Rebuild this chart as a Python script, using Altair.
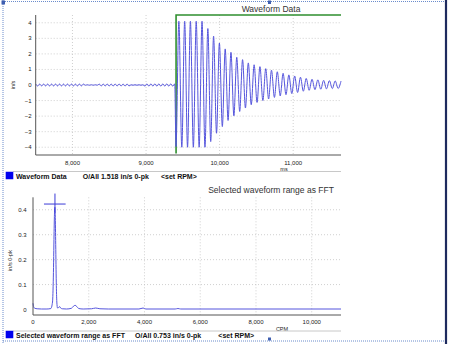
import altair as alt
import pandas as pd

# ---------------- data ----------------
# pre-trigger small ripple (ms, in/s)
pre_t = [7500, 7527, 7554, 7581, 7608, 7635, 7662, 7689, 7716, 7743,
         7770, 7797, 7824, 7851, 7878, 7905, 7932, 7959, 7986, 8013,
         8040, 8067, 8094, 8121, 8148, 8175, 8202, 8229, 8256, 8283,
         8310, 8337, 8364, 8391, 8418, 8445, 8472, 8499, 8526, 8553,
         8580, 8607, 8634, 8661, 8688, 8715, 8742, 8769, 8796, 8823,
         8850, 8877, 8904, 8931, 8958, 8985, 9012, 9039, 9066, 9093,
         9120, 9147, 9174, 9201, 9228, 9255, 9282, 9309, 9336, 9363,
         9390]
pre_v = [0.06, -0.06, 0.06, -0.06, 0.06, -0.06, 0.06, -0.06, 0.06, -0.06,
         0.06, -0.06, 0.06, -0.06, 0.06, -0.06, 0.06, -0.06, 0.06, -0.06,
         0.06, -0.06, 0.06, -0.06, 0.06, -0.015, 0.015, -0.015, 0.015, -0.015,
         0.015, -0.015, 0.06, -0.06, 0.06, -0.06, 0.06, -0.06, 0.06, -0.06,
         0.06, -0.06, 0.06, -0.06, 0.06, -0.06, 0.06, -0.06, 0.015, -0.015,
         0.015, -0.015, 0.015, -0.015, 0.015, -0.07, 0.07, -0.07, 0.07, -0.07,
         0.07, -0.07, 0.07, -0.07, 0.07, -0.07, 0.07, -0.07, 0.07, -0.07,
         0.07]
# ring-down after the impact: troughs and peaks (ms, in/s)
trough_t = [9407, 9486, 9564, 9643, 9722, 9801, 9879, 9958, 10037, 10115,
            10194, 10273, 10351, 10430, 10509, 10588, 10666, 10745, 10824, 10902,
            10981, 11060, 11138, 11217, 11296, 11375, 11453, 11532, 11611]
trough_v = [-3.96, -4.0, -4.0, -4.0, -4.0, -4.0, -3.64, -3.1, -2.67, -2.28,
            -1.98, -1.7, -1.48, -1.27, -1.12, -1.0, -0.9, -0.8, -0.7, -0.62,
            -0.55, -0.48, -0.4, -0.34, -0.3, -0.27, -0.25, -0.23, -0.22]
peak_t = [9446, 9525, 9603, 9682, 9761, 9840, 9918, 9997, 10076, 10154,
          10233, 10312, 10390, 10469, 10548, 10627, 10705, 10784, 10863, 10941,
          11020, 11099, 11177, 11256, 11335, 11414, 11492, 11571, 11650]
peak_v = [4.1, 4.1, 4.1, 4.1, 4.1, 3.63, 3.14, 2.7, 2.32, 2.1,
          1.78, 1.63, 1.42, 1.3, 1.18, 1.05, 0.95, 0.85, 0.75, 0.65,
          0.58, 0.5, 0.42, 0.37, 0.33, 0.3, 0.28, 0.26, 0.25]

# selected range marker (green)
green_t = [9408, 9408, 11650]
green_v = [-4.4, 4.5, 4.5]

wave_xticks = [8000, 9000, 10000, 11000]
wave_yticks = [-4, -3, -2, -1, 0, 1, 2, 3, 4]

# FFT spectrum (CPM, in/s 0-pk)
fft_cpm = [0, 20, 60, 150, 300, 500, 640, 700, 730, 755,
           772, 785, 798, 815, 835, 855, 880, 920, 955, 990,
           1050, 1200, 1380, 1450, 1510, 1570, 1640, 1800, 2100, 2250,
           2400, 2700, 3800, 3950, 4050, 5100, 5200, 5300, 8000, 11050]
fft_amp = [0.025, 0.012, 0.005, 0.003, 0.002, 0.002, 0.004, 0.03, 0.13, 0.3,
           0.39, 0.41, 0.38, 0.26, 0.11, 0.03, 0.006, 0.008, 0.012, 0.006,
           0.003, 0.002, 0.005, 0.013, 0.017, 0.012, 0.004, 0.002, 0.003, 0.006,
           0.003, 0.002, 0.002, 0.006, 0.002, 0.002, 0.004, 0.002, 0.002, 0.002]
fft_xticks = [0, 2000, 4000, 6000, 8000, 10000]
fft_yticks = [0, 0.1, 0.2, 0.3, 0.4]

# peak cursor
cursor_cpm = [394, 788, 1171]
cursor_amp = [0.388, 0.423, 0.465]

# ---------------- layout / style ----------------
W, H = 450, 344
FONT = "Liberation Sans"
WAVE_C = "#5555dd"
AX_C = "#555555"
LAB_C = "#222222"
TX0, TX1, TYB, TYT = 35.7, 341, 155, 15
BX0, BX1, BYB, BYT = 33, 341, 315, 197.3

# ---------------- tables ----------------
rows = [(t, v) for t, v in zip(pre_t, pre_v)]
for a, b, c, d in zip(trough_t, trough_v, peak_t, peak_v):
    rows.append((a, b))
    rows.append((c, d))
wave_df = pd.DataFrame(rows, columns=["t", "v"])
wave_df["i"] = range(len(wave_df))
green_df = pd.DataFrame({"t": green_t, "v": green_v, "i": range(len(green_t))})
fft_df = pd.DataFrame({"c": fft_cpm, "a": fft_amp})
wgx = pd.DataFrame({"g": wave_xticks})
wgy = pd.DataFrame({"g": wave_yticks})
fgx = pd.DataFrame({"g": fft_xticks})
fgy = pd.DataFrame({"g": fft_yticks})
cur_h = pd.DataFrame({"c1": [cursor_cpm[0]], "c2": [cursor_cpm[2]], "a": [cursor_amp[1]]})
cur_v = pd.DataFrame({"c": [cursor_cpm[1]], "a1": [cursor_amp[0]], "a2": [cursor_amp[2]]})
one = pd.DataFrame({"k": [0]})

wx = alt.Scale(domain=[7500, 11650], range=[TX0, TX1], nice=False, zero=False)
wy = alt.Scale(domain=[-4.5, 4.5], range=[TYB, TYT], nice=False, zero=False)
fx = alt.Scale(domain=[0, 11050], range=[BX0, BX1], nice=False, zero=False)
fy = alt.Scale(domain=[-0.022, 0.45], range=[BYB, BYT], nice=False, zero=False)

GRID = dict(color="#c4c4c4", strokeWidth=0.8, strokeDash=[1, 2])
LAB = dict(font=FONT, fontSize=6, color=LAB_C)


def seg(x1, y1, x2, y2, color, width, dash=None):
    kw = dict(color=color, strokeWidth=width)
    if dash:
        kw["strokeDash"] = dash
    return alt.Chart(one).mark_rule(**kw).encode(
        x=alt.value(x1), x2=alt.value(x2), y=alt.value(y1), y2=alt.value(y2))


def txt(s, x, y, size, bold=False, align="left", angle=0, baseline="alphabetic", color="#222"):
    return alt.Chart(one).mark_text(align=align, baseline=baseline, font=FONT, fontSize=size,
                                    fontWeight="bold" if bold else "normal",
                                    color=color, angle=angle).encode(
        x=alt.value(x), y=alt.value(y), text=alt.value(s))


def box(x1, y1, x2, y2, color):
    return alt.Chart(one).mark_rect(color=color).encode(
        x=alt.value(x1), x2=alt.value(x2), y=alt.value(y1), y2=alt.value(y2))


# ---------------- top: waveform ----------------
t_gh = alt.Chart(wgy).mark_rule(**GRID).encode(
    y=alt.Y("g:Q", scale=wy, axis=None), x=alt.value(TX0), x2=alt.value(TX1))
t_gv = alt.Chart(wgx).mark_rule(**GRID).encode(
    x=alt.X("g:Q", scale=wx, axis=None), y=alt.value(TYT), y2=alt.value(TYB))
t_green = alt.Chart(green_df).mark_line(color="#2f8f2f", strokeWidth=1.6).encode(
    x=alt.X("t:Q", scale=wx, axis=None), y=alt.Y("v:Q", scale=wy, axis=None),
    order="i:Q")
t_wave = alt.Chart(wave_df).mark_line(color=WAVE_C, strokeWidth=1, interpolate="monotone").encode(
    x=alt.X("t:Q", scale=wx, axis=None), y=alt.Y("v:Q", scale=wy, axis=None), order="i:Q")
t_xl = alt.Chart(wgx).mark_text(baseline="top", align="center", **LAB).encode(
    x=alt.X("g:Q", scale=wx, axis=None), y=alt.value(TYB + 4.5),
    text=alt.Text("g:Q", format=","))
t_yl = alt.Chart(wgy).mark_text(baseline="middle", align="right", **LAB).encode(
    y=alt.Y("g:Q", scale=wy, axis=None), x=alt.value(TX0 - 4),
    text=alt.Text("g:Q", format="d"))
top = alt.layer(t_gh, t_gv, t_green, t_wave, t_xl, t_yl,
                seg(TX0, TYB, TX1, TYB, AX_C, 1), seg(TX0, TYT, TX0, TYB, AX_C, 1))

# ---------------- bottom: FFT ----------------
b_gh = alt.Chart(fgy[fgy.g > 0]).mark_rule(**GRID).encode(
    y=alt.Y("g:Q", scale=fy, axis=None), x=alt.value(BX0), x2=alt.value(BX1))
b_gv = alt.Chart(fgx[fgx.g > 0]).mark_rule(**GRID).encode(
    x=alt.X("g:Q", scale=fx, axis=None), y=alt.value(BYT), y2=alt.value(BYB))
b_fft = alt.Chart(fft_df).mark_line(color=WAVE_C, strokeWidth=1, interpolate="monotone").encode(
    x=alt.X("c:Q", scale=fx, axis=None), y=alt.Y("a:Q", scale=fy, axis=None))
b_ch = alt.Chart(cur_h).mark_rule(color="#3b3bd6", strokeWidth=1).encode(
    x=alt.X("c1:Q", scale=fx, axis=None), x2="c2:Q", y=alt.Y("a:Q", scale=fy, axis=None))
b_cv = alt.Chart(cur_v).mark_rule(color="#3b3bd6", strokeWidth=1).encode(
    x=alt.X("c:Q", scale=fx, axis=None), y=alt.Y("a1:Q", scale=fy, axis=None), y2="a2:Q")
b_xl = alt.Chart(fgx).mark_text(baseline="top", align="center", **LAB).encode(
    x=alt.X("g:Q", scale=fx, axis=None), y=alt.value(BYB + 4),
    text=alt.Text("g:Q", format=","))
b_yl = alt.Chart(fgy).mark_text(baseline="middle", align="right", **LAB).encode(
    y=alt.Y("g:Q", scale=fy, axis=None), x=alt.value(BX0 - 6.5),
    text=alt.Text("g:Q", format=".1~f"))
bottom = alt.layer(b_gh, b_gv, b_fft, b_ch, b_cv, b_xl, b_yl,
                   seg(BX0, BYB, BX1, BYB, AX_C, 1), seg(BX0, BYT, BX0, BYB, AX_C, 1))

# ---------------- decorations ----------------
BORDER = "#6b8ccc"
deco = [
    # dotted selection frame + handles
    seg(3, 0, 3, H, BORDER, 1, [1, 1]),
    seg(3, 1.5, 446, 1.5, BORDER, 1, [1, 1]),
    seg(3, 341, 446, 341, BORDER, 1, [1, 1]),
    seg(446, 0, 446, H, "#1e2a5e", 2.2),
    box(1.5, 0.5, 5, 4.5, "#3f5fb0"),
    box(268, 0.5, 271, 4, "#3f5fb0"),
    box(268, 337.5, 271, 340.5, "#3f5fb0"),
    # titles
    txt("Waveform Data", 271, 12, 8.5, align="center", color="#333"),
    txt("Selected waveform range as FFT", 271, 193, 8.5, align="center", color="#333"),
    # axis titles
    txt("in/s", 13, 85, 5.5, align="center", angle=270, baseline="middle"),
    txt("in/s 0-pk", 10, 260.5, 5.5, align="center", angle=270, baseline="middle"),
    txt("ms", 284, 171, 5.5, align="center"),
    txt("CPM", 282, 330.5, 5.5, align="center"),
    # legend strips
    seg(13, 171.5, 341, 171.5, "#c8c8c8", 1),
    box(5.7, 171.7, 13.3, 179.3, "#0000ee"),
    txt("Waveform Data", 16, 179, 7, bold=True, color="#111"),
    txt("O/All 1.518 in/s 0-pk", 82.7, 179, 7, bold=True, color="#111"),
    txt("<set RPM>", 161, 179, 7, bold=True, color="#111"),
    seg(13, 331, 341, 331, "#c8c8c8", 1),
    box(5.7, 330.7, 13.3, 338.3, "#0000ee"),
    txt("Selected waveform range as FFT", 16, 338, 7, bold=True, color="#111"),
    txt("O/All 0.753 in/s 0-pk", 135, 338, 7, bold=True, color="#111"),
    txt("<set RPM>", 218.3, 338, 7, bold=True, color="#111"),
]

chart = alt.layer(top, bottom, *deco).resolve_scale(
    x="independent", y="independent"
).properties(
    width=W, height=H, padding=0,
    autosize=alt.AutoSizeParams(type="none"),
    background="white",
).configure_view(stroke=None)

chart.save("out.html", embed_options={"renderer": "svg", "actions": False})
